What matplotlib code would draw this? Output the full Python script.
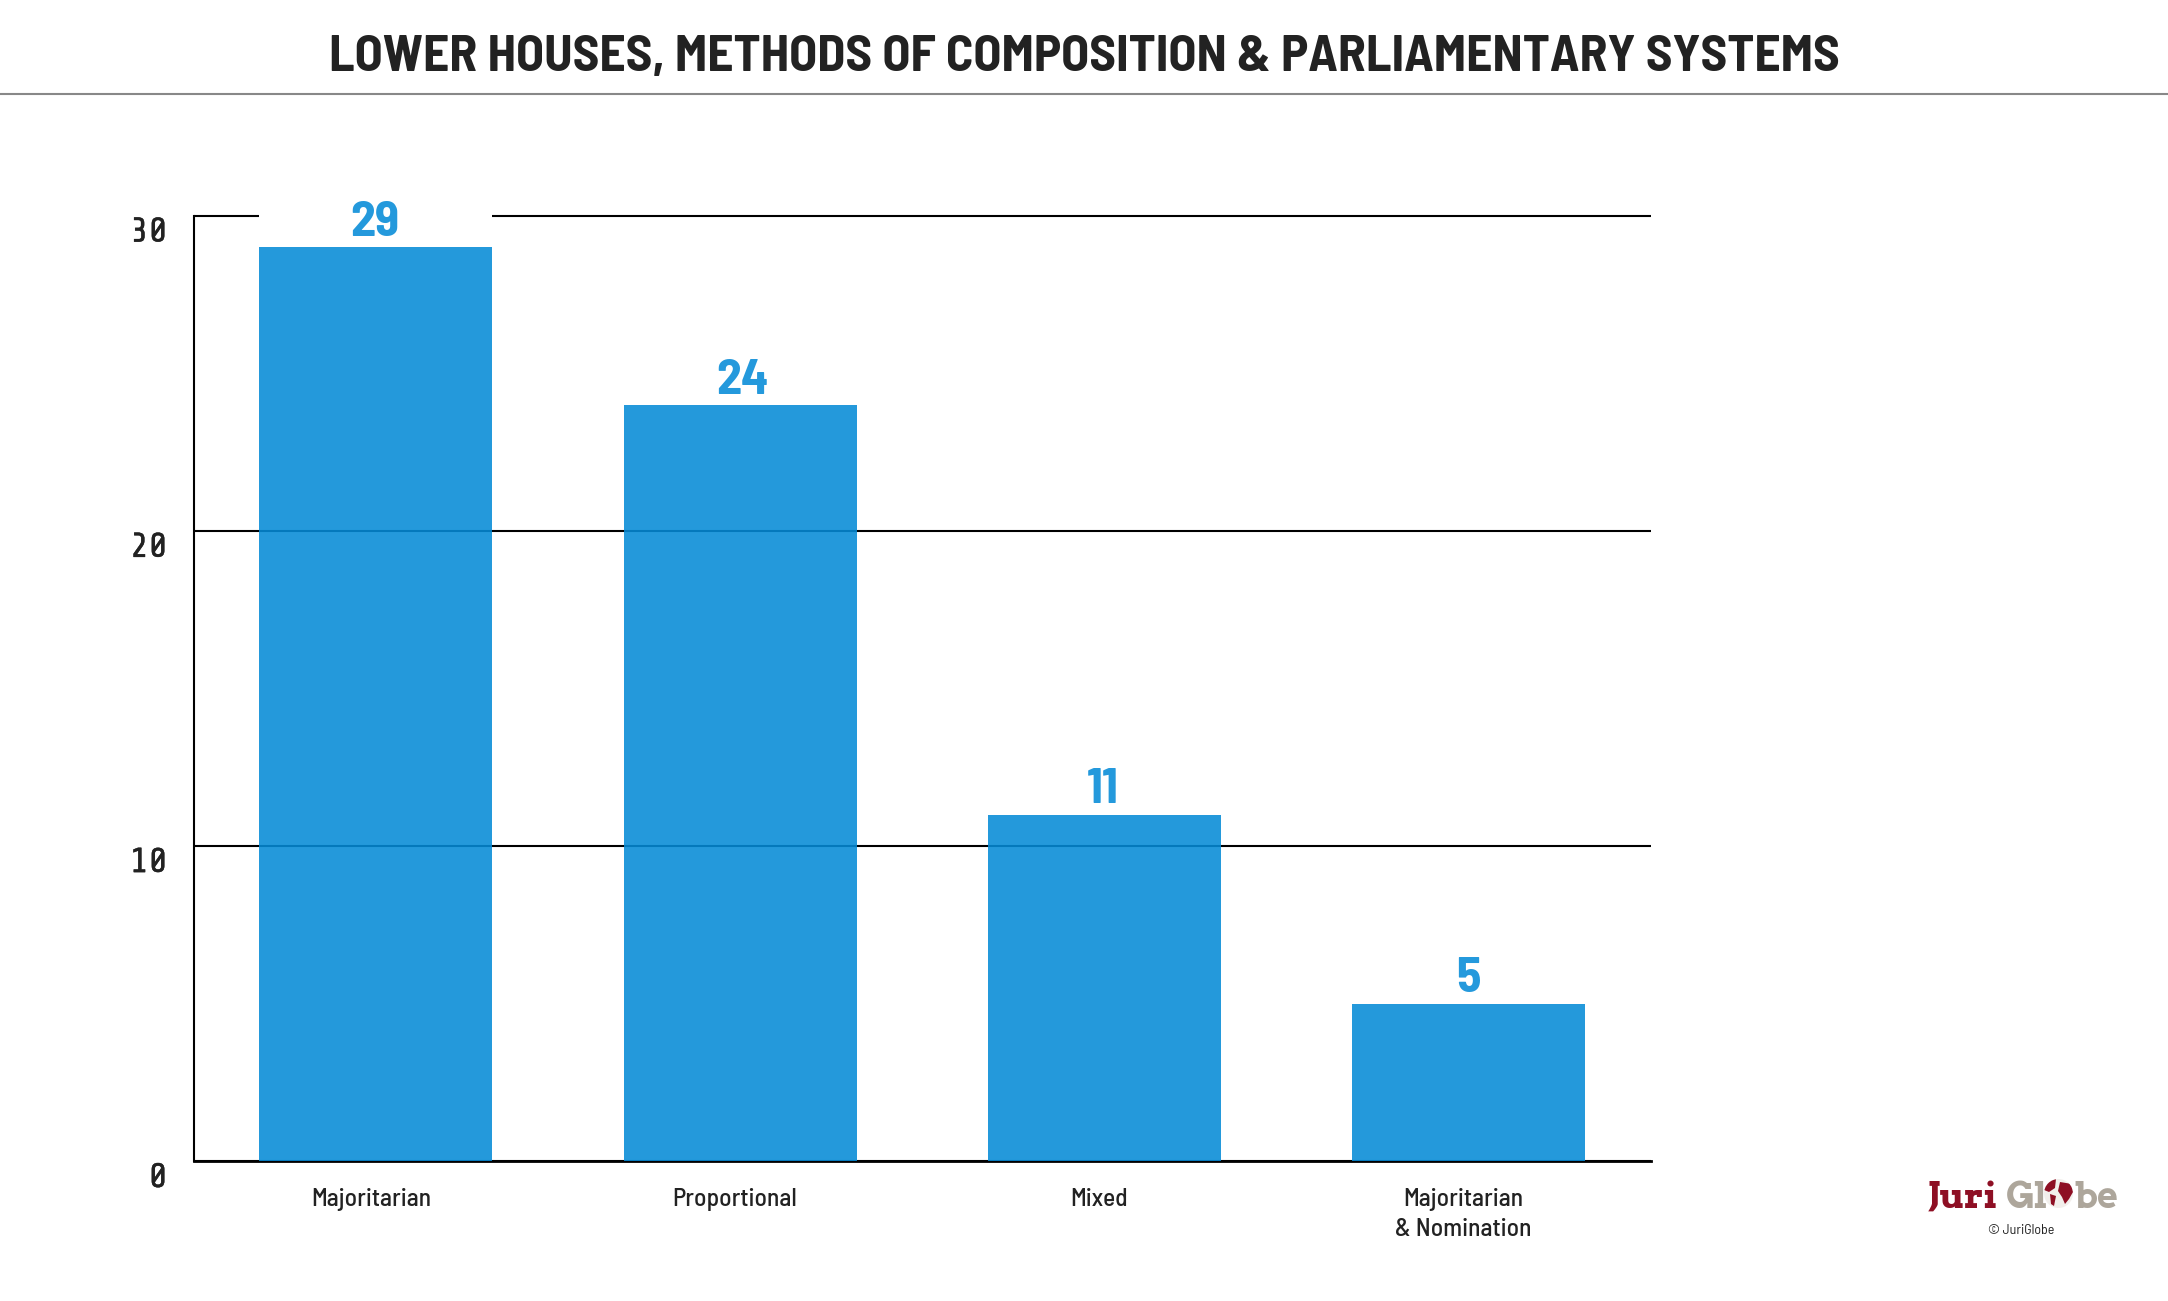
import matplotlib
matplotlib.use("Agg")
import matplotlib.pyplot as plt
import matplotlib.patheffects as pe
from matplotlib.lines import Line2D
from matplotlib.patches import Ellipse, Polygon
from matplotlib.transforms import ScaledTranslation

# values
categories = ["Majoritarian", "Proportional", "Mixed", "Majoritarian\n& Nomination"]
counts = [29, 24, 11, 5]
y_ticks = [0, 10, 20, 30]
title = "LOWER HOUSES, METHODS OF COMPOSITION & PARLIAMENTARY SYSTEMS"

W, H = 2168, 1301
LABEL_BLUE = "#2499dc"
BAR_BLUE = "#058bd7"  # gives about #2399dc on white at this alpha
DARK = "#222222"
RED = "#8e0f24"
TAN = "#ada69b"

din = ["Barlow Semi Condensed", "Roboto", "DejaVu Sans"]
mono = ["Share Tech Mono", "DejaVu Sans Mono"]
slab = ["Arvo", "Liberation Serif", "DejaVu Serif"]

label_nudge = [-0.003, 0.006, -0.005, 0.0]  # value labels aren't quite centred on the bars


def fpos(x, y):
    # image pixels to figure fraction
    return x / W, 1 - y / H


plt.rcParams["font.family"] = din

fig = plt.figure(figsize=(W / 100, H / 100), dpi=100, facecolor="white")
ax = fig.add_axes([193.8 / W, 1 - 1161.3 / H, 1456.8 / W, 945.6 / H])

xs = range(len(categories))
# grid goes under the slightly see-through bars
ax.set_axisbelow(True)
ax.grid(axis="y", color="black", lw=1.5, zorder=1, clip_on=False, solid_capstyle="butt")
ax.bar(xs, counts, width=0.64, color=BAR_BLUE, alpha=0.88, lw=0, zorder=2)

# white patch behind the tallest bar's label cuts the top grid line
ax.bar(0, 2, bottom=max(counts), width=0.64, color="white", lw=0, zorder=3, clip_on=False)

for x, v, nudge in zip(xs, counts, label_nudge):
    ax.text(x + nudge, v + 0.07, str(v), ha="center", va="bottom", color=LABEL_BLUE,
            fontsize=36, fontweight="bold", zorder=4)

ax.set_xlim(-0.5, 3.5)
ax.set_ylim(0, 30)
ax.set_yticks(y_ticks)
ax.set_xticks(list(xs))
ax.set_xticklabels(categories, fontsize=18.3, fontweight="medium", color=DARK, linespacing=1.38)
ax.tick_params(axis="x", length=0, pad=19)
ax.tick_params(axis="y", length=0, pad=19, labelsize=25, labelcolor=DARK)
xshift = ScaledTranslation(-5 / 100, 0, fig.dpi_scale_trans)
yshift = ScaledTranslation(0, -2 / 100, fig.dpi_scale_trans)
for label in ax.get_xticklabels():
    label.set_transform(label.get_transform() + xshift)
for label in ax.get_yticklabels():
    label.set_family(mono)
    label.set_verticalalignment("top")
    label.set_transform(label.get_transform() + yshift)
    # share tech mono is a bit thin next to the original
    label.set_path_effects([pe.withStroke(linewidth=0.3, foreground=DARK)])

for side in ("top", "right"):
    ax.spines[side].set_visible(False)
ax.spines["left"].set_linewidth(1.5)
ax.spines["bottom"].set_linewidth(2)
ax.spines["left"].set_zorder(1.5)
ax.spines["bottom"].set_zorder(1.5)

# header
fig.text(*fpos(1084.5, 57), title, ha="center", va="center", fontsize=37,
         fontweight="bold", color=DARK)
fig.add_artist(Line2D([0, 1], [1 - 94 / H] * 2, color="#888888", lw=1.5))

# logo, bottom right
logo = dict(fontsize=26, fontweight="bold", family=slab, va="baseline")
fig.text(*fpos(1928, 1208), "Juri", color=RED, **logo)
fig.text(*fpos(2006, 1208), "Gl", color=TAN, **logo)
fig.text(*fpos(2074, 1208), "be", color=TAN, **logo)

globe = Ellipse(fpos(2058.5, 1193.5), 29 / W, 29 / H, facecolor="#f2efec", edgecolor="none",
                transform=fig.transFigure)
fig.add_artist(globe)
land = [
    [(2046, 1180), (2056, 1179), (2055, 1188), (2049, 1192), (2044, 1190)],
    [(2050, 1194), (2056, 1196), (2054, 1206), (2051, 1204)],
    [(2060, 1182), (2072, 1184), (2073, 1192), (2069, 1199), (2065, 1204), (2062, 1197), (2058, 1191)],
]
for shape in land:
    patch = Polygon([fpos(*p) for p in shape], closed=True, facecolor=RED, edgecolor="none",
                    transform=fig.transFigure)
    fig.add_artist(patch)
    patch.set_clip_path(globe)

fig.text(*fpos(2021.5, 1230), "\u00a9 JuriGlobe", ha="center", va="center", fontsize=10, color=DARK)

fig.savefig("out.png", dpi=100)
